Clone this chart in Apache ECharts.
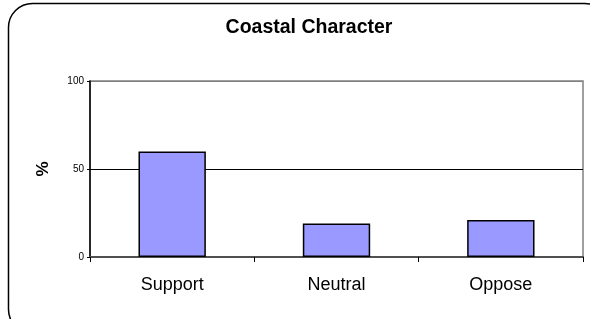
<!DOCTYPE html>
<html>
<head>
<meta charset="utf-8">
<script src="https://cdn.jsdelivr.net/npm/echarts@6/dist/echarts.min.js"></script>
<style>html,body{margin:0;padding:0;background:#fff}#c{width:590px;height:319px}</style>
</head>
<body>
<div id="c"></div>
<script>
const titleText = 'Coastal Character';
const categories = ['Support', 'Neutral', 'Oppose'];
const values = [60, 19, 21];
const yAxisName = '%';

const chart = echarts.init(document.getElementById('c'), null, {renderer: 'canvas'});
chart.setOption({
  animation: false,
  backgroundColor: '#fff',
  title: {
    text: titleText, left: 304, top: 13, textAlign: 'center',
    textStyle: {fontFamily: 'Liberation Sans, Arial', fontSize: 19.5, fontWeight: 'bold', color: '#000'}
  },
  graphic: [{
    type: 'rect', shape: {x: 8.5, y: 3.5, width: 600, height: 330, r: 24},
    style: {fill: 'none', stroke: '#000', lineWidth: 1.5}, z: 100, silent: true
  }],
  grid: {left: 90, right: 7, top: 81, bottom: 62, show: true, borderColor: '#808080', borderWidth: 1.5, backgroundColor: 'transparent'},
  xAxis: {
    type: 'category', data: categories,
    axisLine: {lineStyle: {color: '#505050', width: 2}},
    axisTick: {show: true, length: 5, lineStyle: {color: '#000'}},
    axisLabel: {fontFamily: 'Liberation Sans, Arial', fontSize: 18, color: '#000', margin: 19}
  },
  yAxis: {
    type: 'value', min: 0, max: 100, interval: 50,
    name: yAxisName, nameLocation: 'middle', nameGap: 38, nameRotate: 90,
    nameTextStyle: {fontFamily: 'Liberation Sans, Arial', fontSize: 17, fontWeight: 'bold', color: '#000'},
    axisLine: {show: true, lineStyle: {color: '#000', width: 1.5}},
    axisTick: {show: true, length: 3, lineStyle: {color: '#000'}},
    axisLabel: {fontFamily: 'Liberation Sans, Arial', fontSize: 10, color: '#000', margin: 6},
    splitLine: {show: true, lineStyle: {color: ['#000', '#000', '#808080'], width: 1}}
  },
  series: [{
    type: 'bar', data: values, barWidth: '41%',
    itemStyle: {color: '#9999FF', borderColor: '#000', borderWidth: 1.5}
  }]
});
</script>
</body>
</html>
